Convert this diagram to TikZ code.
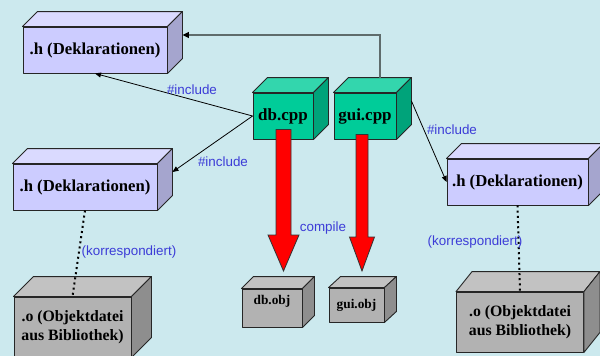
\documentclass[tikz,border=0pt]{standalone}
\usepackage{fontspec}
\setmainfont{Liberation Serif}
\newfontfamily\labelfont{Liberation Sans}
\usetikzlibrary{arrows.meta,calc}

\definecolor{bg}{RGB}{204,233,238}
\definecolor{hfront}{RGB}{204,204,255}
\definecolor{htop}{RGB}{218,218,255}
\definecolor{hside}{RGB}{165,165,206}
\definecolor{cfront}{RGB}{0,204,153}
\definecolor{ctop}{RGB}{51,214,173}
\definecolor{cside}{RGB}{0,163,122}
\definecolor{gfront}{RGB}{178,178,178}
\definecolor{gtop}{RGB}{194,194,194}
\definecolor{gside}{RGB}{142,142,142}
\definecolor{lblblue}{RGB}{60,60,215}
\definecolor{linkgray}{RGB}{95,108,108}

% top and right faces of a box whose front face is node #1
\newcommand\cuboid[5]{%
  \filldraw[face,fill=#4] (#1.north west) -- ++(#2,-#3)
    -- ([shift={(#2,-#3)}]#1.north east) -- (#1.north east) -- cycle;
  \filldraw[face,fill=#5] (#1.north east) -- ++(#2,-#3)
    -- ([shift={(#2,-#3)}]#1.south east) -- (#1.south east) -- cycle;}

% broad block arrow: tail, tip, half shaft width, half head width, head length
\newcommand\fatarrow[5]{%
  \filldraw[redarrow] let \p1=(#1), \p2=(#2) in
    (\x2-#3,\y1) -- (\x2+#3,\y1) -- (\x2+#3,\y2+#5) -- (\x2+#4,\y2+#5)
    -- (\x2,\y2) -- (\x2-#4,\y2+#5) -- (\x2-#3,\y2+#5) -- cycle;}

\tikzset{
  face/.style={draw=black!85, line width=0.9pt, line join=round},
  front/.style={face, inner sep=0pt, font=\bfseries},
  hbox/.style={front, fill=hfront, minimum width=144pt, minimum height=46pt,
    font=\fontsize{16.7}{19}\selectfont\bfseries},
  cpp/.style={front, fill=cfront, minimum width=60pt, minimum height=46pt,
    font=\fontsize{17}{19}\selectfont\bfseries},
  obj/.style={front, fill=gfront, font=\fontsize{13.3}{16}\selectfont\bfseries},
  lib/.style={front, fill=gfront, minimum height=60pt, align=center,
    font=\fontsize{15.8}{18.5}\selectfont\bfseries},
  lbl/.style={inner sep=0pt, text=lblblue, font=\fontsize{13.4}{15}\selectfont\labelfont},
  incl/.style={draw=black, line width=0.8pt, -{Triangle[length=6pt,width=5pt]}},
  corr/.style={draw=black, line width=2pt, dash pattern=on 2pt off 3.2pt},
  redarrow/.style={fill=red, draw=black!80, line width=0.8pt, line join=miter},
}

\begin{document}
\begin{tikzpicture}[x=1pt, y=-1pt]
  \useasboundingbox (0,0) rectangle (600,356);
  \fill[bg] (0,0) rectangle (600,356);
  \begin{scope}
  \clip (0,0) rectangle (600,356);

  % header files
  \node[hbox] (hA) at (95,50) {.h (Deklarationen)};
  \cuboid{hA}{15}{15}{htop}{hside}
  \node[hbox] (hB) at (85,187) {.h (Deklarationen)};
  \cuboid{hB}{15}{15}{htop}{hside}
  \node[hbox, minimum width=141pt] (hC) at (517.5,182) {.h (Deklarationen)};
  \cuboid{hC}{15}{15}{htop}{hside}

  % library object files
  \node[lib, minimum width=117pt] (oA) at (72.5,327) {.o (Objektdatei\\aus Bibliothek)};
  \cuboid{oA}{20}{20}{gtop}{gside}
  \node[lib, minimum width=127pt] (oB) at (520,322) {.o (Objektdatei\\aus Bibliothek)};
  \cuboid{oB}{16}{20}{gtop}{gside}

  % compiled objects
  \node[obj, minimum width=60pt, minimum height=38pt, text depth=17pt] (dbobj) at (272,308) {db.obj};
  \cuboid{dbobj}{12}{12}{gtop}{gside}
  \node[obj, minimum width=55pt, minimum height=34pt] (guiobj) at (356.5,305) {gui.obj};
  \cuboid{guiobj}{12}{11}{gtop}{gside}

  % sources
  \node[cpp] (db) at (283,116) {db.cpp};
  \cuboid{db}{15}{15}{ctop}{cside}
  \node[cpp, minimum width=62pt] (gui) at (365,116) {gui.cpp};
  \cuboid{gui}{15}{15}{ctop}{cside}

  % compile arrows
  \coordinate (dbTip) at (283.5,271);
  \coordinate (guiTip) at (362,271);
  \fatarrow{$(db.south)+(0,-10)$}{dbTip}{7.5pt}{15.5pt}{36pt}
  \fatarrow{$(gui.south)+(0,-5)$}{guiTip}{6pt}{12.5pt}{34pt}

  % includes
  \draw[incl] (db.west) -- (hA.south);
  \draw[incl] (db.west) -- ([shift={(15,-15)}]hB.east);
  \draw[incl] ([shift={(15,-15)}]gui.east) -- (hC.west);
  \draw[draw=linkgray, line width=1.3pt,
        -{Triangle[length=6.5pt,width=6pt,color=black]}]
    ([shift={(15,-15)}]gui.north) |- ([shift={(15,-15)}]hA.east);

  % correspondence
  \draw[corr] (hB.south) -- (oA.north);
  \draw[corr] (hC.south) -- (oB.north);

  % labels
  \node[lbl] (inc1) at (192,90) {\#include};
  \node[lbl] (inc2) at (223,162) {\#include};
  \node[lbl] (inc3) at (452,130) {\#include};
  \node[lbl] (kor1) at (129,252) {(korrespondiert)};
  \node[lbl] (kor2) at (475,242) {(korrespondiert)};
  \node[lbl] (comp) at (323,228) {compile};
  \end{scope}
\end{tikzpicture}
\end{document}
